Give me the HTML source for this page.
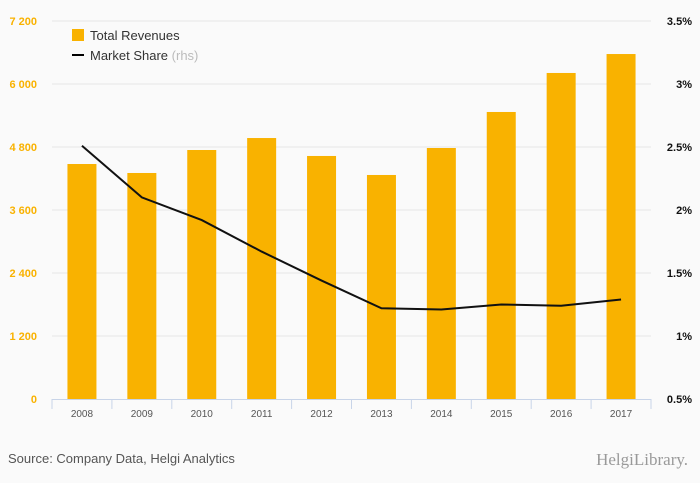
<!DOCTYPE html>
<html><head><meta charset="utf-8"><style>
body{margin:0;background:#fafafa;font-family:"Liberation Sans",sans-serif;}
svg{display:block}
</style></head><body>
<svg id="c" width="700" height="483">
<rect width="700" height="483" fill="#fafafa"/>
<g id="grid"></g><g id="bars"></g><g id="axes"></g><g id="line"></g>
<g>
<rect x="72" y="29" width="12" height="12" fill="#f9b200"/>
<text x="90" y="40" font-size="13" fill="#333">Total Revenues</text>
<rect x="72" y="54" width="12" height="2" fill="#000"/>
<text x="90" y="60" font-size="13" fill="#333">Market Share <tspan fill="#bbb">(rhs)</tspan></text>
</g>
<text x="8" y="463" font-size="13" fill="#555">Source: Company Data, Helgi Analytics</text>
<text x="688" y="465" font-size="17" fill="#999" text-anchor="end" font-family="Liberation Serif,serif">HelgiLibrary.</text>
</svg>
<script>
const categories=["2008","2009","2010","2011","2012","2013","2014","2015","2016","2017"];
const revenues=[4476,4305,4743,4971,4629,4267,4781,5467,6210,6571];
const share=[2.51,2.10,1.92,1.67,1.44,1.22,1.21,1.25,1.24,1.29];
const leftTicks=[0,1200,2400,3600,4800,6000,7200];
const leftLabels=["0","1 200","2 400","3 600","4 800","6 000","7 200"];
const rightTicks=[0.5,1,1.5,2,2.5,3,3.5];
const rightLabels=["0.5%","1%","1.5%","2%","2.5%","3%","3.5%"];
const NS="http://www.w3.org/2000/svg";
const X0=52,X1=651,Y0=399,Y1=21;
const bw=(X1-X0)/categories.length;
const xc=i=>X0+bw*(i+0.5);
const yl=v=>Y0-(v/7200)*(Y0-Y1);
const yr=v=>Y0-((v-0.5)/3)*(Y0-Y1);
function mk(tag,attrs,parent){const e=document.createElementNS(NS,tag);for(const k in attrs)e.setAttribute(k,attrs[k]);document.getElementById(parent).appendChild(e);return e;}
leftTicks.forEach((t,i)=>{
 if(t>0){const g=mk('line',{x1:X0,x2:X1,y1:yl(t),y2:yl(t),stroke:'#e6e6e6'},'grid');
 
 }
 const l=mk('text',{x:37,y:yl(t)+4,'text-anchor':'end','font-size':11,fill:'#f9b200','font-weight':'bold'},'axes');
 l.textContent=leftLabels[i];
 
 
});
rightTicks.forEach((t,i)=>{
 const l=mk('text',{x:692,y:yr(t)+4,'text-anchor':'end','font-size':11,fill:'#111','font-weight':'bold'},'axes');
 l.textContent=rightLabels[i];
 
 
});
const ax=mk('line',{x1:X0,x2:X1,y1:Y0+0.5,y2:Y0+0.5,stroke:'#c8d4e8'},'axes');


for(let i=0;i<=categories.length;i++){
 const tk=mk('line',{x1:X0+bw*i,x2:X0+bw*i,y1:Y0,y2:Y0+10,stroke:'#c8d4e8'},'axes');
 
 
}
categories.forEach((c,i)=>{
 const b=mk('rect',{x:xc(i)-14.5,y:yl(revenues[i]),width:29,height:Y0-yl(revenues[i]),fill:'#f9b200'},'bars');
 
 
 const l=mk('text',{x:xc(i),y:Y0+18,'text-anchor':'middle','font-size':10,fill:'#555'},'axes');
 l.textContent=c;
 
 
});
const p=mk('polyline',{points:share.map((v,i)=>xc(i)+','+yr(v)).join(' '),fill:'none',stroke:'#111','stroke-width':2},'line');


</script>
</body></html>
